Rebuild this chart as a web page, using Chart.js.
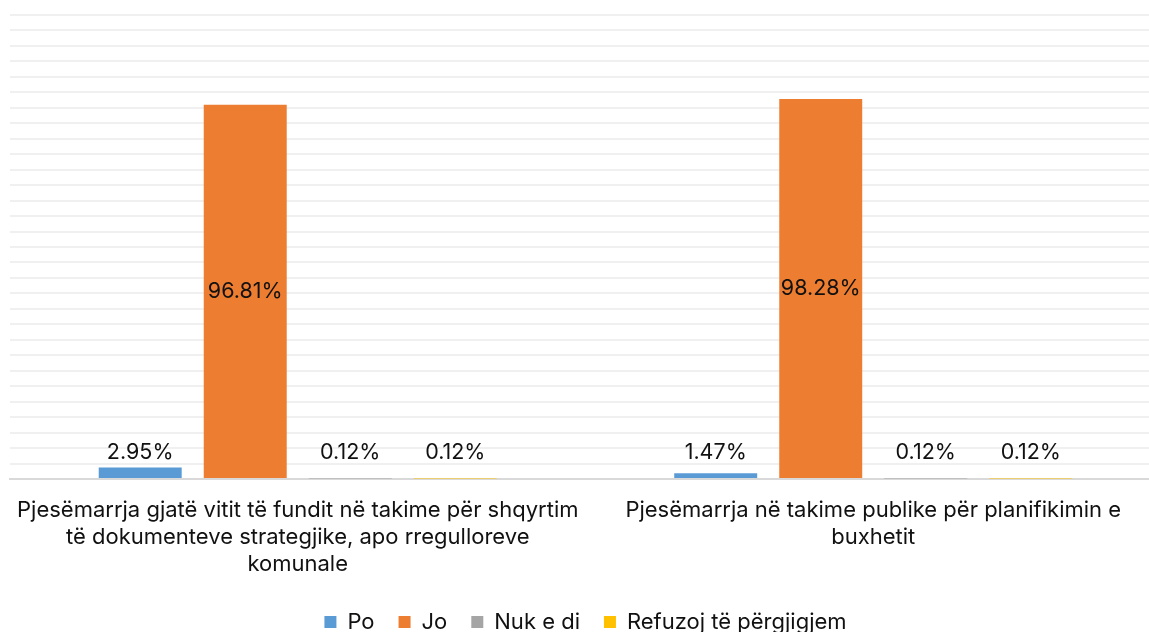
<!DOCTYPE html>
<html>
<head>
<meta charset="utf-8">
<script src="https://cdn.jsdelivr.net/npm/chart.js@4"></script>
<style>
  html, body { margin: 0; padding: 0; background: #fff; overflow: hidden; }
  #wrap { width: 1171px; height: 643px; }
</style>
</head>
<body>
<div id="wrap"><canvas id="participationChart"></canvas></div>
<script>
// categories (wrapped into lines for the x axis)
const categories = [
  ['Pjesëmarrja gjatë vitit të fundit në takime për shqyrtim', 'të dokumenteve strategjike, apo rregulloreve', 'komunale'],
  ['Pjesëmarrja në takime publike për planifikimin e', 'buxhetit']
];

const seriesNames = ['Po', 'Jo', 'Nuk e di', 'Refuzoj të përgjigjem'];
const seriesColors = ['#5B9BD5', '#ED7D31', '#A5A5A5', '#FFC000'];

// percent per answer, one value per category
const poValues = [2.95, 1.47];
const joValues = [96.81, 98.28];
const nukEDiValues = [0.12, 0.12];
const refuzojValues = [0.12, 0.12];

const FONT = 'Inter, "Noto Sans", sans-serif';

// draws the percentage over each bar (inside when the bar is tall)
const valueLabels = {
  id: 'valueLabels',
  afterDatasetsDraw(chart) {
    const ctx = chart.ctx;
    ctx.save();
    ctx.font = '21.5px ' + FONT;
    ctx.fillStyle = '#111';
    ctx.textAlign = 'center';
    ctx.textBaseline = 'middle';
    chart.data.datasets.forEach((ds, i) => {
      const meta = chart.getDatasetMeta(i);
      meta.data.forEach((bar, j) => {
        const text = ds.data[j].toFixed(2) + '%';
        const h = bar.base - bar.y;
        const y = h > 60 ? bar.y + h / 2 : bar.base - 25;
        ctx.fillText(text, bar.x, y);
      });
    });
    ctx.restore();
  }
};

const allSeries = [poValues, joValues, nukEDiValues, refuzojValues];

new Chart(document.getElementById('participationChart'), {
  type: 'bar',
  data: {
    labels: categories,
    datasets: allSeries.map((vals, i) => ({
      label: seriesNames[i],
      data: vals,
      backgroundColor: seriesColors[i],
      categoryPercentage: 0.73,
      barPercentage: 0.79
    }))
  },
  options: {
    responsive: true,
    maintainAspectRatio: false,
    animation: false,
    layout: { padding: { left: 10, right: 10, top: 15, bottom: 0 } },
    scales: {
      x: {
        grid: { display: false },
        border: { color: '#D9D9D9', width: 2 },
        ticks: {
          color: '#111',
          font: { family: FONT, size: 22, lineHeight: 1.23 },
          maxRotation: 0,
          autoSkip: false,
          padding: 10
        },
        afterFit(scale) { scale.height = 108; }
      },
      y: {
        min: 0,
        max: 120,
        ticks: { display: false, stepSize: 4 },
        border: { display: false },
        grid: { color: '#F0F0F0', lineWidth: 2, drawTicks: false }
      }
    },
    plugins: {
      legend: {
        position: 'bottom',
        labels: {
          color: '#111',
          font: { family: FONT, size: 22 },
          boxWidth: 12,
          boxHeight: 12,
          padding: 24
        }
      },
      tooltip: { enabled: false }
    }
  },
  plugins: [valueLabels]
});
</script>
</body>
</html>
